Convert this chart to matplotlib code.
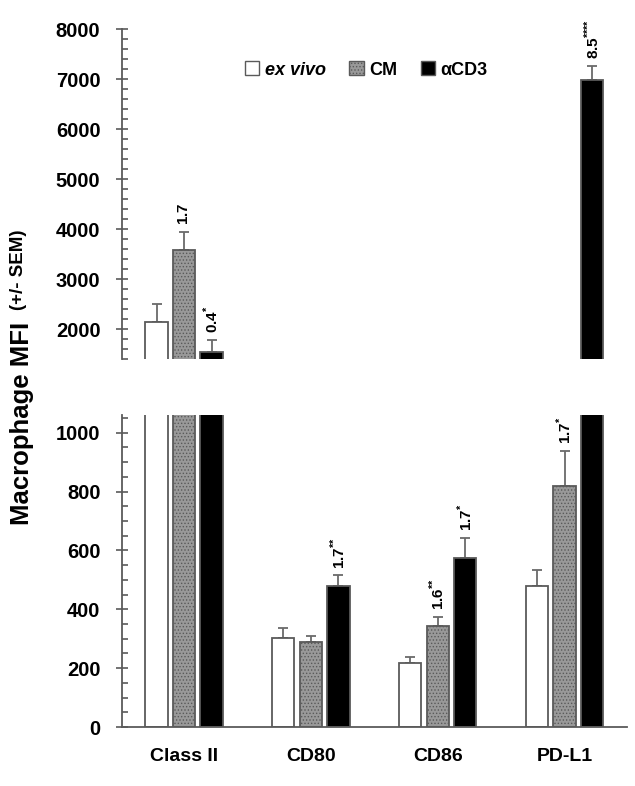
import matplotlib
matplotlib.use("Agg")
import matplotlib.pyplot as plt
from matplotlib.patches import Patch
from matplotlib.ticker import MultipleLocator
import numpy as np

plt.rcParams['font.family'] = ['Liberation Sans', 'DejaVu Sans']
plt.rcParams['font.weight'] = 'bold'
plt.rcParams['mathtext.fontset'] = 'custom'
plt.rcParams['mathtext.rm'] = 'Liberation Sans:bold'
plt.rcParams['mathtext.bf'] = 'Liberation Sans:bold'
plt.rcParams['hatch.linewidth'] = 0.6

markers = ['Class II', 'CD80', 'CD86', 'PD-L1']
groups = ['ex vivo', 'CM', 'αCD3']
ex_vivo = [2140, 303, 217, 478]
ex_vivo_err = [360, 32, 20, 54]
cm = [3580, 289, 343, 820]
cm_err = [370, 19, 31, 119]
acd3 = [1540, 479, 574, 6980]
acd3_err = [240, 36, 68, 280]

# fold-change labels: (group index, marker index, text)
labels = [
    (1, 0, r'$1.7$'),
    (2, 0, r'$0.4^{\text{*}}$'),
    (2, 3, r'$8.5^{\text{****}}$'),
    (2, 1, r'$1.7^{\text{**}}$'),
    (1, 2, r'$1.6^{\text{**}}$'),
    (2, 2, r'$1.7^{\text{*}}$'),
    (1, 3, r'$1.7^{\text{*}}$'),
]

values = [ex_vivo, cm, acd3]
errors = [ex_vivo_err, cm_err, acd3_err]
colors = ['white', '#999999', 'black']
hatches = [None, '.....', None]
edge = '#5a5a5a'

fig = plt.figure(figsize=(6.35, 7.86), dpi=100)
ax_top = fig.add_axes([0.192, 0.543, 0.795, 0.420])
ax_bot = fig.add_axes([0.192, 0.075, 0.795, 0.397])

x = np.arange(len(markers))
width = 0.175
offset = 0.217

for ax in (ax_top, ax_bot):
    for i in range(3):
        ax.bar(x + (i - 1) * offset, values[i], width, color=colors[i],
               edgecolor=edge, linewidth=1.3, hatch=hatches[i], zorder=2)
        ax.errorbar(x + (i - 1) * offset, values[i],
                    yerr=[np.zeros(4), errors[i]], fmt='none',
                    ecolor='#6a6a6a', elinewidth=1.3, capsize=3.5,
                    capthick=1.3, zorder=1)
    ax.set_xlim(-0.49, 3.49)
    for s in ['top', 'right']:
        ax.spines[s].set_visible(False)
    ax.spines['left'].set_color(edge)
    ax.spines['left'].set_linewidth(1.3)
    ax.tick_params(axis='y', which='major', direction='inout', length=9,
                   width=1.2, color=edge, labelsize=14.5, pad=11)
    ax.tick_params(axis='y', which='minor', direction='in', length=4,
                   width=1.2, color=edge)

ax_top.set_ylim(1400, 8000)
ax_top.yaxis.set_major_locator(MultipleLocator(1000))
ax_top.yaxis.set_minor_locator(MultipleLocator(200))
ax_top.set_yticks(range(2000, 8001, 1000))
ax_top.spines['bottom'].set_visible(False)
ax_top.set_xticks([])

ax_bot.set_ylim(0, 1060)
ax_bot.yaxis.set_major_locator(MultipleLocator(200))
ax_bot.yaxis.set_minor_locator(MultipleLocator(50))
ax_bot.spines['bottom'].set_color(edge)
ax_bot.spines['bottom'].set_linewidth(1.3)
ax_bot.set_xticks(x)
ax_bot.set_xticklabels(markers, fontsize=14)
ax_bot.tick_params(axis='x', length=0, pad=15)

for gi, mi, txt in labels:
    top = values[gi][mi] + errors[gi][mi]
    xpos = x[mi] + (gi - 1) * offset
    if top > 1060:
        target = ax_top
    else:
        target = ax_bot
    target.annotate(txt, (xpos, top), xytext=(0, 5), textcoords='offset points',
                    rotation=90, ha='center', va='bottom', fontsize=11)

handles = [Patch(facecolor=c, edgecolor=edge, linewidth=1, hatch=h)
           for c, h in zip(colors, hatches)]
leg = fig.legend(handles, groups, loc='center', bbox_to_anchor=(0.577, 0.911),
                 ncol=3, frameon=False, fontsize=13, handlelength=0.8,
                 handleheight=0.8, handletextpad=0.3, columnspacing=1.3)
leg.get_texts()[0].set_style('italic')

fig.text(0.034, 0.332, 'Macrophage MFI', rotation=90, ha='center',
         va='bottom', fontsize=18.5)
fig.text(0.029, 0.605, '(+/- SEM)', rotation=90, ha='center', va='bottom',
         fontsize=13.5)

fig.savefig('out.png', dpi=100)
